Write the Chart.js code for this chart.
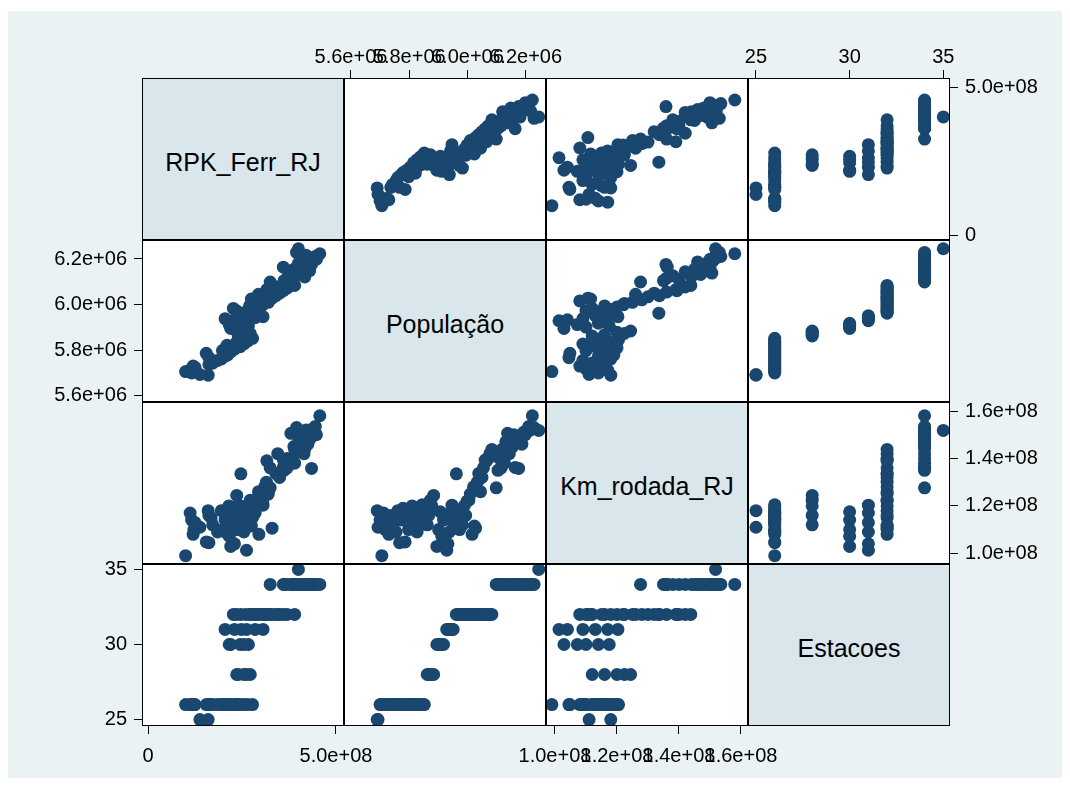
<!DOCTYPE html>
<html>
<head>
<meta charset="utf-8">
<script src="https://cdn.jsdelivr.net/npm/chart.js@4"></script>
<style>
  body { margin: 0; background: #fff; font-family: "Liberation Sans", Arial, sans-serif; }
  #bg { position: absolute; left: 8px; top: 11px; width: 1054px; height: 767px; background: #eaf2f3; }
  #grid { position: absolute; left: 142px; top: 78px; width: 808px; height: 648px; background: #fff; }
  canvas { position: absolute; }
  .cell { position: absolute; box-sizing: border-box; border: 1px solid #000; pointer-events: none; }
  .diag { background: #d9e6eb; display: flex; align-items: center; justify-content: center;
          font-size: 25px; color: #000; padding-top: 6px; }
</style>
</head>
<body>
<div id="bg"></div>
<div id="grid"></div>
<script>
// variable names (diagonal)
const names = ["RPK_Ferr_RJ", "População", "Km_rodada_RJ", "Estacoes"];

// observations, in time order
const rpk = [
  1.60e8, 1.38e8,
  1.16e8, 1.00e8, 1.12e8, 1.22e8, 1.25e8, 1.20e8, 1.62e8, 1.72e8, 1.68e8, 1.85e8, 1.95e8, 1.62e8, 2.05e8,
  2.12e8, 1.55e8, 2.20e8, 1.98e8, 2.30e8, 2.15e8, 2.45e8, 2.10e8, 2.55e8, 2.35e8, 2.65e8, 2.40e8, 2.78e8,
  2.40e8, 2.55e8, 2.72e8, 2.62e8, 2.36e8,
  2.20e8, 2.45e8, 2.67e8, 2.16e8, 2.55e8,
  2.62e8, 2.30e8, 2.05e8, 2.85e8, 3.06e8, 2.48e8,
  2.47e8, 2.60e8, 2.35e8, 2.80e8, 2.27e8, 2.90e8, 2.70e8, 3.05e8, 2.85e8, 3.20e8, 2.95e8, 3.10e8,
  2.75e8, 3.30e8, 3.15e8, 3.40e8, 2.94e8, 3.50e8, 3.25e8, 3.60e8, 3.16e8, 3.70e8, 3.45e8, 3.90e8,
  3.25e8, 3.62e8, 3.85e8, 3.70e8, 4.17e8, 3.90e8, 4.05e8, 3.80e8, 4.15e8, 4.30e8, 3.88e8, 4.20e8,
  3.60e8, 4.10e8, 4.35e8, 4.00e8, 4.25e8, 4.40e8, 4.48e8, 4.30e8, 4.45e8, 4.20e8, 4.57e8, 3.95e8,
  4.00e8
];
const populacao = [
  5.690e6, 5.693e6,
  5.700e6, 5.706e6, 5.712e6, 5.718e6, 5.724e6, 5.730e6, 5.737e6, 5.743e6, 5.749e6, 5.755e6, 5.761e6, 5.767e6, 5.773e6,
  5.779e6, 5.786e6, 5.792e6, 5.798e6, 5.804e6, 5.810e6, 5.815e6, 5.821e6, 5.827e6, 5.833e6, 5.839e6, 5.845e6, 5.852e6,
  5.862e6, 5.867e6, 5.873e6, 5.878e6, 5.884e6,
  5.895e6, 5.901e6, 5.907e6, 5.912e6, 5.918e6,
  5.929e6, 5.933e6, 5.938e6, 5.942e6, 5.947e6, 5.951e6,
  5.962e6, 5.967e6, 5.973e6, 5.978e6, 5.983e6, 5.989e6, 5.994e6, 5.999e6, 6.005e6, 6.010e6, 6.016e6, 6.021e6,
  6.024e6, 6.028e6, 6.034e6, 6.039e6, 6.045e6, 6.050e6, 6.055e6, 6.061e6, 6.066e6, 6.072e6, 6.077e6, 6.084e6,
  6.099e6, 6.105e6, 6.110e6, 6.116e6, 6.121e6, 6.127e6, 6.132e6, 6.138e6, 6.144e6, 6.149e6, 6.155e6, 6.160e6,
  6.164e6, 6.170e6, 6.176e6, 6.181e6, 6.187e6, 6.193e6, 6.199e6, 6.205e6, 6.211e6, 6.217e6, 6.223e6, 6.229e6,
  6.245e6
];
const kmRodada = [
  1.180e8, 1.110e8,
  1.140e8, 0.990e8, 1.170e8, 1.100e8, 1.130e8, 1.080e8, 1.160e8, 1.120e8, 1.150e8, 1.090e8, 1.180e8, 1.045e8, 1.140e8,
  1.190e8, 1.048e8, 1.170e8, 1.100e8, 1.150e8, 1.200e8, 1.130e8, 1.160e8, 1.090e8, 1.180e8, 1.120e8, 1.205e8, 1.150e8,
  1.120e8, 1.160e8, 1.224e8, 1.200e8, 1.244e8,
  1.029e8, 1.100e8, 1.175e8, 1.072e8, 1.140e8,
  1.013e8, 1.040e8, 1.090e8, 1.170e8, 1.203e8, 1.130e8,
  1.335e8, 1.150e8, 1.100e8, 1.180e8, 1.120e8, 1.200e8, 1.160e8, 1.220e8, 1.224e8, 1.250e8, 1.080e8, 1.280e8,
  1.115e8, 1.106e8, 1.300e8, 1.337e8, 1.260e8, 1.320e8, 1.360e8, 1.393e8, 1.390e8, 1.400e8, 1.420e8, 1.438e8,
  1.276e8, 1.350e8, 1.400e8, 1.360e8, 1.440e8, 1.380e8, 1.470e8, 1.506e8, 1.420e8, 1.480e8, 1.450e8, 1.500e8,
  1.362e8, 1.470e8, 1.358e8, 1.490e8, 1.460e8, 1.510e8, 1.500e8, 1.520e8, 1.535e8, 1.520e8, 1.580e8, 1.530e8,
  1.518e8
];
const estacoes = [
  25, 25,
  26, 26, 26, 26, 26, 26, 26, 26, 26, 26, 26, 26, 26, 26, 26, 26, 26, 26, 26, 26, 26, 26, 26, 26, 26, 26,
  28, 28, 28, 28, 28,
  30, 30, 30, 30, 30,
  31, 31, 31, 31, 31, 31,
  32, 32, 32, 32, 32, 32, 32, 32, 32, 32, 32, 32, 32, 32, 32, 32, 32, 32, 32, 32, 32, 32, 32, 32,
  34, 34, 34, 34, 34, 34, 34, 34, 34, 34, 34, 34, 34, 34, 34, 34, 34, 34, 34, 34, 34, 34, 34, 34,
  35
];

// tick values and labels per variable
const rpkTicks = [0, 5e8];
const rpkTickLabels = ["0", "5.0e+08"];
const popTicks = [5.6e6, 5.8e6, 6.0e6, 6.2e6];
const popTickLabels = ["5.6e+06", "5.8e+06", "6.0e+06", "6.2e+06"];
const kmTicks = [1.0e8, 1.2e8, 1.4e8, 1.6e8];
const kmTickLabels = ["1.0e+08", "1.2e+08", "1.4e+08", "1.6e+08"];
const estTicks = [25, 30, 35];
const estTickLabels = ["25", "30", "35"];

const vars = [rpk, populacao, kmRodada, estacoes];
const tickVals = [rpkTicks, popTicks, kmTicks, estTicks];
const tickLabels = [rpkTickLabels, popTickLabels, kmTickLabels, estTickLabels];

// axis ranges (horizontal use / vertical use)
const hRange = [[-0.16e8, 5.213e8], [5.576e6, 6.270e6], [0.971e8, 1.6226e8], [24.573, 35.358]];
const vRange = [[-0.159e8, 5.314e8], [5.5723e6, 6.2834e6], [0.955e8, 1.638e8], [24.573, 35.358]];

// where the outer axes go
const topCols = [1, 3], bottomCols = [0, 2];
const leftRows = [1, 3], rightRows = [0, 2];

const X0 = 142, Y0 = 78, W = 202, H = 162;
const padX = 120, padY = 60;
const axisW = 110, axisH = 45;
const navy = "#1a476f";
const font = { family: "'Liberation Sans', Arial, sans-serif", size: 20, lineHeight: 1 };
const labelGap = { top: 3, bottom: 12, left: 7, right: 7 };

function axis(v, range, position, show, size) {
  const fixed = show ? size : 0;
  return {
    type: "linear",
    position: position,
    display: show,
    min: range[0],
    max: range[1],
    afterBuildTicks: (s) => { s.ticks = tickVals[v].map((t) => ({ value: t })); },
    afterFit: (s) => {
      if (s.isHorizontal()) s.height = fixed; else s.width = fixed;
      s.paddingLeft = s.paddingRight = s.paddingTop = s.paddingBottom = 0;
    },
    grid: { display: true, drawOnChartArea: false, drawTicks: true, tickLength: 8, color: "#000", lineWidth: 1 },
    border: { display: false },
    ticks: {
      autoSkip: false, maxRotation: 0, minRotation: 0, padding: labelGap[position], color: "#000", font: font,
      callback: (val) => tickLabels[v][tickVals[v].indexOf(val)]
    }
  };
}

for (let i = 0; i < 4; i++) {
  for (let j = 0; j < 4; j++) {
    if (i === j) continue;
    const showTop = i === 0 && topCols.includes(j);
    const showBottom = i === 3 && bottomCols.includes(j);
    const showLeft = j === 0 && leftRows.includes(i);
    const showRight = j === 3 && rightRows.includes(i);

    const canvas = document.createElement("canvas");
    canvas.width = W + 2 * padX;
    canvas.height = H + 2 * padY;
    canvas.style.left = (X0 + j * W - padX) + "px";
    canvas.style.top = (Y0 + i * H - padY) + "px";
    document.body.appendChild(canvas);

    const points = vars[j].map((x, k) => ({ x: x, y: vars[i][k] }));

    new Chart(canvas, {
      type: "scatter",
      data: {
        datasets: [{
          data: points,
          pointRadius: 6.5,
          pointBackgroundColor: navy,
          pointBorderWidth: 0,
          clip: false
        }]
      },
      options: {
        responsive: false,
        animation: false,
        events: [],
        devicePixelRatio: 1,
        layout: {
          padding: {
            left: padX - (showLeft ? axisW : 0),
            right: padX - (showRight ? axisW : 0),
            top: padY - (showTop ? axisH : 0),
            bottom: padY - (showBottom ? axisH : 0)
          }
        },
        scales: {
          x: axis(j, hRange[j], showTop ? "top" : "bottom", showTop || showBottom, axisH),
          y: axis(i, vRange[i], showRight ? "right" : "left", showLeft || showRight, axisW)
        },
        plugins: { legend: { display: false }, tooltip: { enabled: false } }
      }
    });
  }
}

// cell frames and diagonal labels
for (let i = 0; i < 4; i++) {
  for (let j = 0; j < 4; j++) {
    const d = document.createElement("div");
    d.className = i === j ? "cell diag" : "cell";
    d.style.left = (X0 + j * W) + "px";
    d.style.top = (Y0 + i * H) + "px";
    d.style.width = W + "px";
    d.style.height = H + "px";
    if (i === j) d.textContent = names[i];
    document.body.appendChild(d);
  }
}
</script>
</body>
</html>
